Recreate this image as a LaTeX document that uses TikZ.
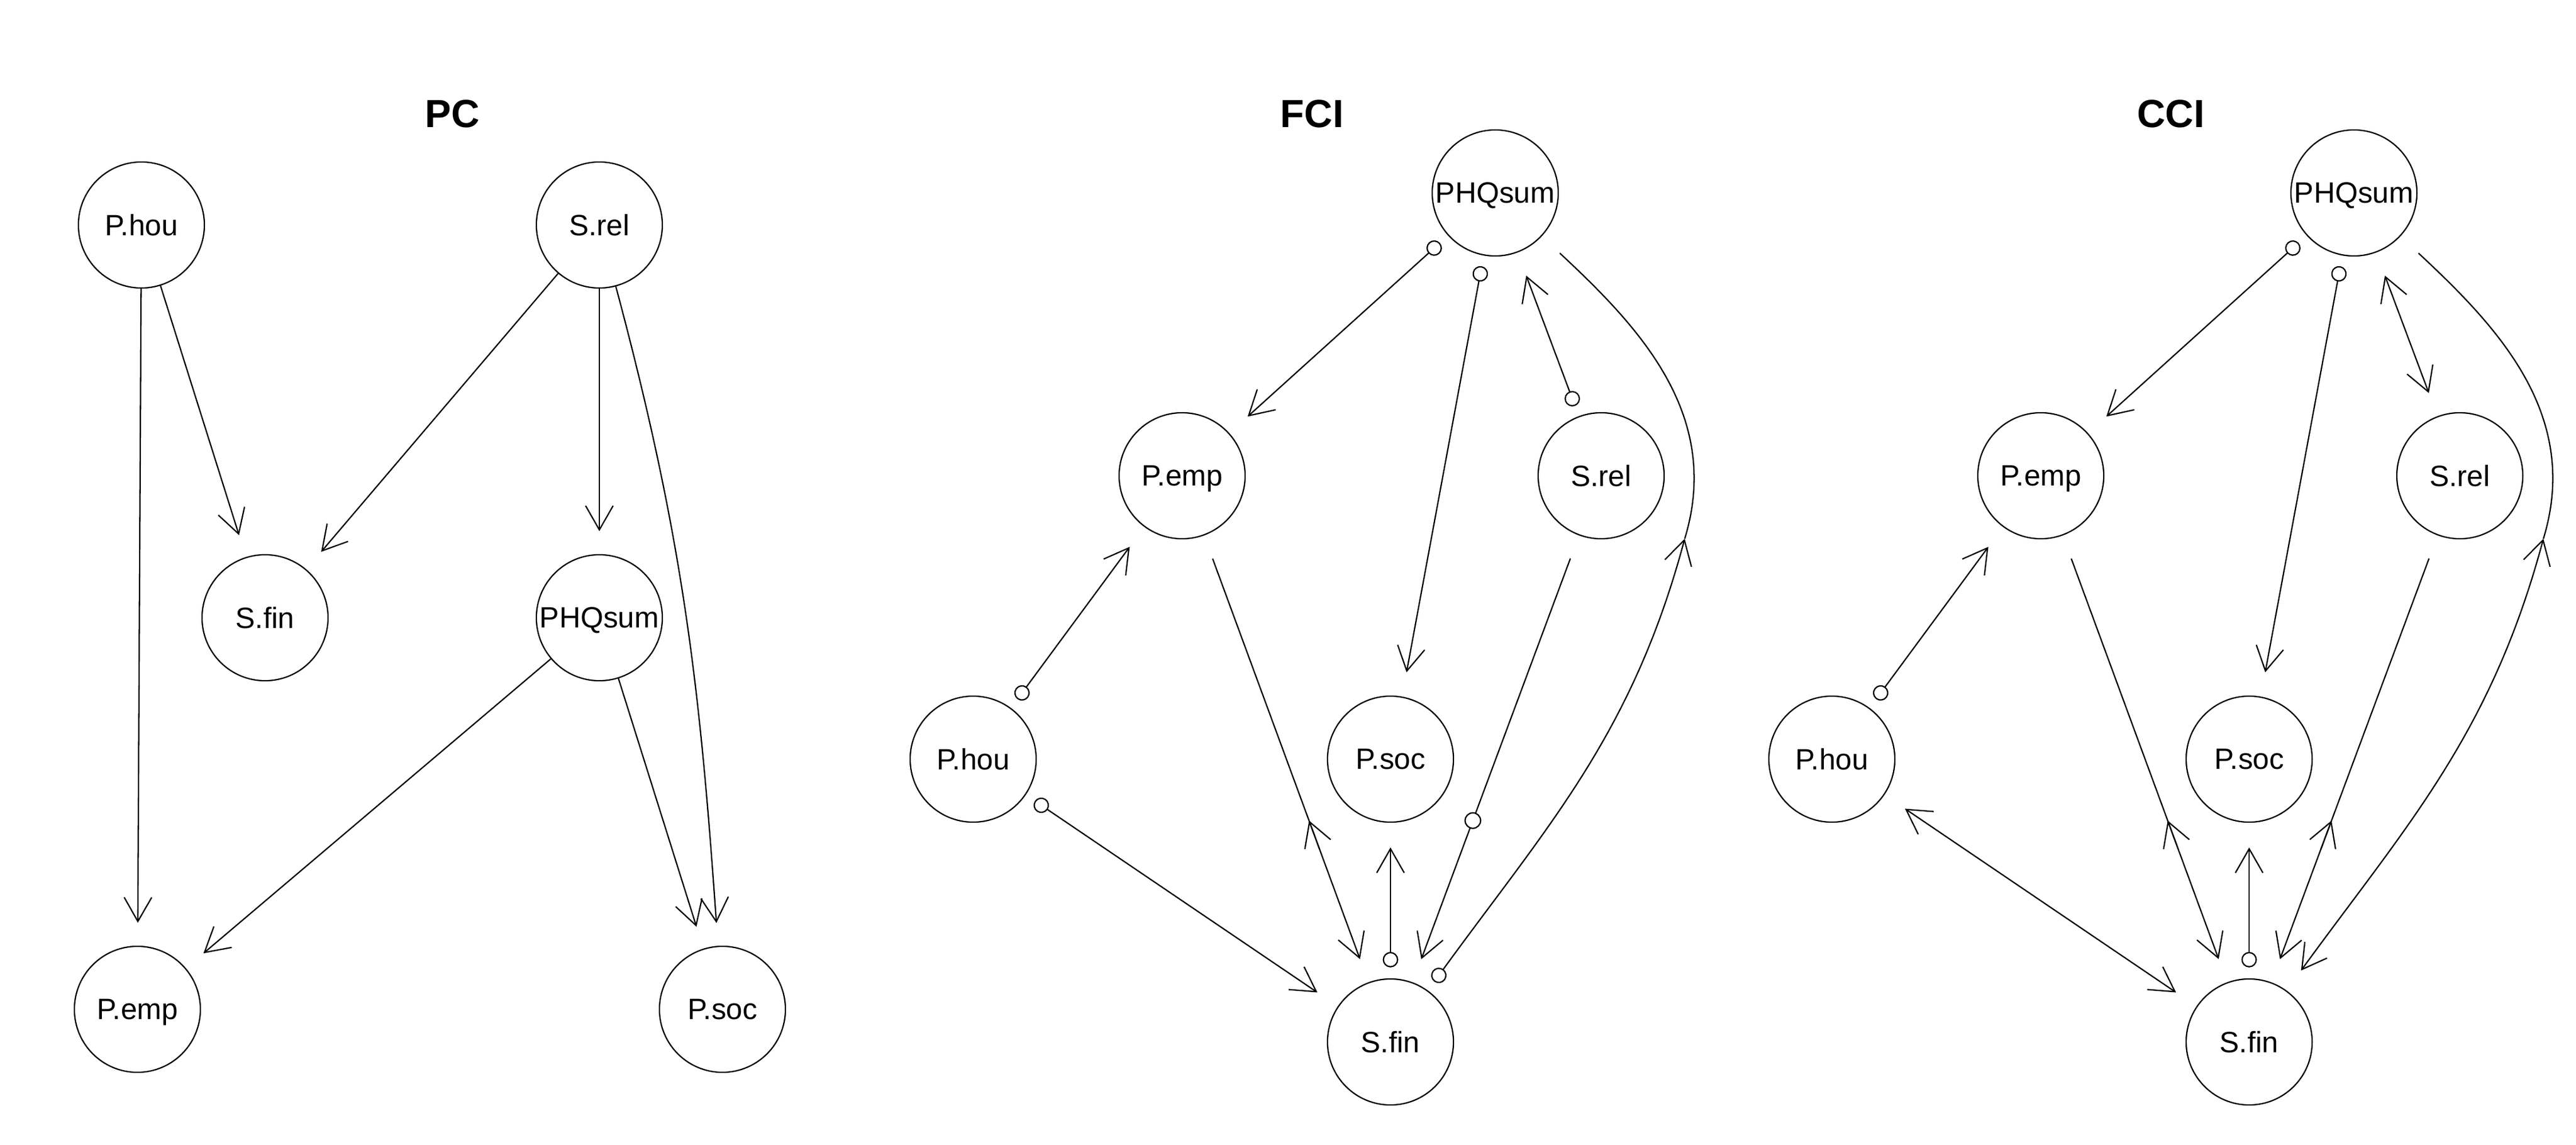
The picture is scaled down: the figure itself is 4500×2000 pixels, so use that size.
\documentclass[tikz,border=0pt]{standalone}
\usepackage{fontspec}
\setmainfont{Liberation Sans}
\usetikzlibrary{arrows.meta,calc}

\tikzset{
  var/.style={circle, draw, line width=0.65pt, minimum size=2.2cm, inner sep=0pt,
    text depth=0pt, font=\fontsize{14.6}{16}\selectfont},
  ttl/.style={font=\bfseries\fontsize{19.5}{22}\selectfont},
  barb/.tip={Straight Barb[length=4.2mm, width=4.8mm]},
  ring/.tip={Circle[open, length=2.7mm]},
  link/.style={line width=0.65pt, shorten >=4.3mm, shorten <=4.3mm},
  pclink/.style={line width=0.65pt, -barb, shorten >=4mm},
  rtail/.style={shorten <=1.9mm},
  omark/.style={circle, draw, fill=white, line width=0.65pt, minimum size=2.7mm, inner sep=0pt},
}

\begin{document}
\begin{tikzpicture}[x=0.01cm, y=0.01cm]
  \useasboundingbox (0,0) rectangle (4500,-2000);

  % PC
  \node[ttl] (pcT) at (790,-199) {PC};
  \node[var] (p-Phou) at (247,-393) {P.hou};
  \node[var] (p-Srel) at (1047,-393) {S.rel};
  \node[var] (p-Sfin) at (463,-1079) {S.fin};
  \node[var] (p-PHQ) at (1047,-1079) {PHQsum};
  \node[var] (p-Pemp) at (240,-1763) {P.emp};
  \node[var] (p-Psoc) at (1262,-1763) {P.soc};

  \draw[pclink] (p-Phou) -- (p-Pemp);
  \draw[pclink] (p-Phou) -- (p-Sfin);
  \draw[pclink] (p-Srel) -- (p-Sfin);
  \draw[pclink] (p-Srel) -- (p-PHQ);
  \draw[pclink] (p-Srel) to[out=-75,in=94] (p-Psoc);
  \draw[pclink] (p-PHQ) -- (p-Pemp);
  \draw[pclink] (p-PHQ) -- (p-Psoc);

  % FCI and CCI: same layout, shifted
  \node[ttl] (fciT) at (2292,-199) {FCI};
  \node[ttl] (cciT) at (3792,-199) {CCI};
  \foreach \pn/\dx in {f/0, c/1500}{
    \foreach \nm/\lab/\x/\y in {PHQ/PHQsum/2612/337, Pemp/P.emp/2065/831,
        Srel/S.rel/2797/831, Phou/P.hou/1700/1326, Psoc/P.soc/2429/1326,
        Sfin/S.fin/2429/1820}
      \node[var] (\pn-\nm) at (\x+\dx,-\y) {\lab};
    \coordinate (\pn-M) at (2943+\dx,-941);

    \draw[link, ring-barb, rtail] (\pn-PHQ) -- (\pn-Pemp);
    \draw[link, ring-barb, rtail] (\pn-PHQ) -- (\pn-Psoc);
    \draw[link, shorten <=0pt] (\pn-M) to[out=73,in=-43] (\pn-PHQ);
    \draw[link, ring-barb, rtail] (\pn-Phou) -- (\pn-Pemp);
    \draw[link, -barb] (\pn-Pemp) -- (\pn-Sfin);
    \draw[line width=0.65pt, -barb] ($(\pn-Pemp)!0.66!(\pn-Sfin)$) -- ($(\pn-Pemp)!0.609!(\pn-Sfin)$);
    \draw[link, ring-barb, rtail] (\pn-Sfin) -- (\pn-Psoc);
    \draw[link, -barb] (\pn-Srel) -- (\pn-Sfin);
  }

  % FCI only
  \draw[link, ring-barb, rtail] (f-Srel) -- (f-PHQ);
  \draw[link, ring-barb, rtail] (f-Phou) -- (f-Sfin);
  \draw[link, ring-barb, rtail, shorten >=0pt] (f-Sfin) to[out=54,in=255] (f-M);
  \node[omark] (f-o) at ($(f-Srel)!0.609!(f-Sfin)$) {};

  % CCI only
  \draw[link, barb-barb] (c-PHQ) -- (c-Srel);
  \draw[link, barb-barb] (c-Phou) -- (c-Sfin);
  \draw[link, barb-barb, shorten >=0pt] (c-Sfin) to[out=54,in=255] (c-M);
  \draw[line width=0.65pt, -barb] ($(c-Srel)!0.66!(c-Sfin)$) -- ($(c-Srel)!0.609!(c-Sfin)$);
\end{tikzpicture}
\end{document}
